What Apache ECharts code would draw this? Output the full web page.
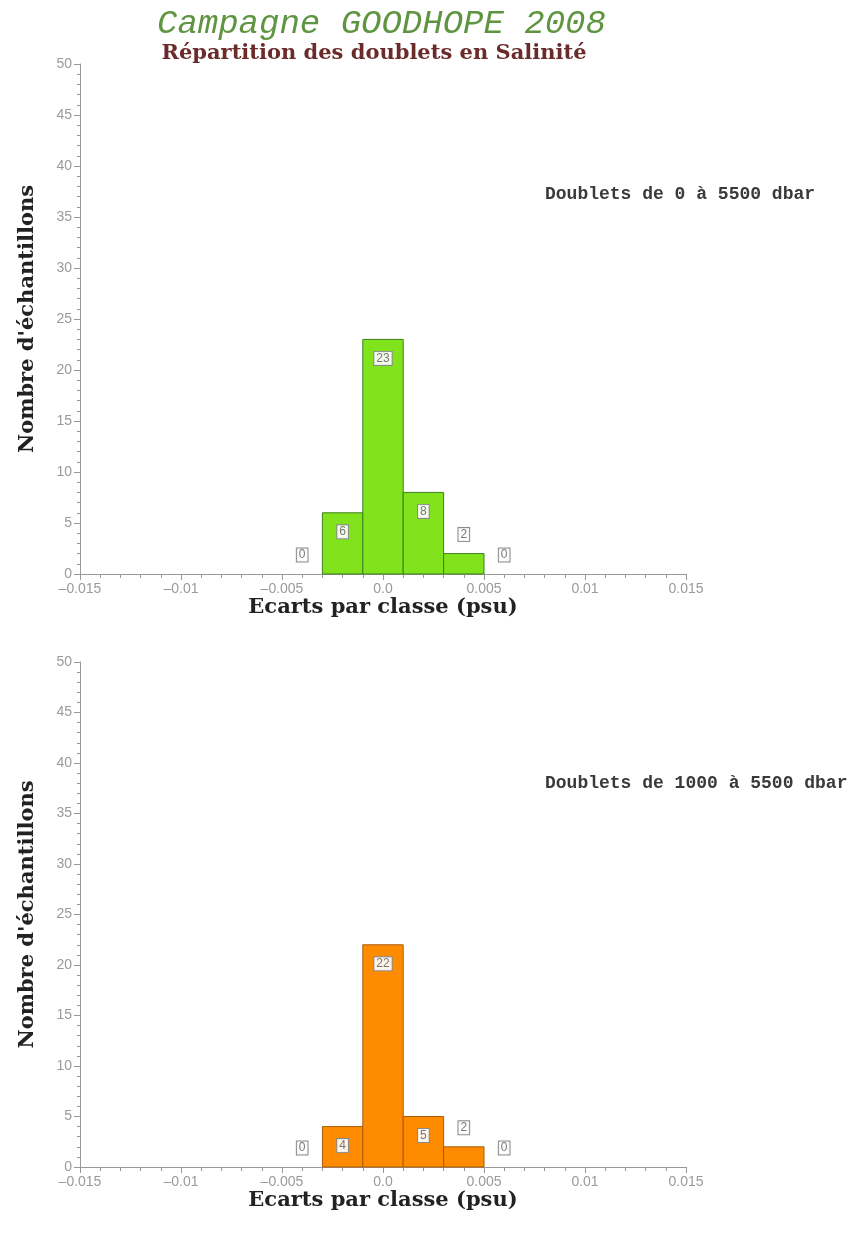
<!DOCTYPE html>
<html>
<head>
<meta charset="utf-8">
<script src="https://cdn.jsdelivr.net/npm/echarts@6/dist/echarts.min.js"></script>
<style>
html,body{margin:0;padding:0;background:#fff;}
#chart{width:854px;height:1243px;}
</style>
</head>
<body>
<div id="chart"></div>
<script>
// ---- data ----
const titleText = "Campagne GOODHOPE 2008";
const subtitleText = "Répartition des doublets en Salinité";
const binCenters = [-0.004, -0.002, 0.0, 0.002, 0.004, 0.006];
const binWidth = 0.002;
const countsTop = [0, 6, 23, 8, 2, 0];
const countsBottom = [0, 4, 22, 5, 2, 0];
const labelTop = "Doublets de 0 à 5500 dbar";
const labelBottom = "Doublets de 1000 à 5500 dbar";
const xTickLabels = {"-0.015": "–0.015", "-0.01": "–0.01", "-0.005": "–0.005", "0": "0.0", "0.005": "0.005", "0.01": "0.01", "0.015": "0.015"};
const xName = "Ecarts par classe (psu)";
const yName = "Nombre d'échantillons";

const chart = echarts.init(document.getElementById('chart'), null, {renderer: 'canvas'});

function makeRender(fill, stroke) {
  return function (params, api) {
    const c = api.value(0), v = api.value(1);
    const p0 = api.coord([c - binWidth / 2, 0]);
    const p1 = api.coord([c + binWidth / 2, v]);
    const children = [];
    if (v > 0) {
      children.push({
        type: 'rect',
        shape: {x: p0[0], y: p1[1], width: p1[0] - p0[0], height: p0[1] - p1[1]},
        style: {fill: fill, stroke: stroke, lineWidth: 1}
      });
    }
    const ly = v > 3 ? p1[1] + 19 : p1[1] - 19;
    children.push({
      type: 'text',
      x: (p0[0] + p1[0]) / 2,
      y: ly,
      style: {
        text: String(v), align: 'center', verticalAlign: 'middle',
        fontSize: 12, fontFamily: 'Liberation Sans', fill: '#777',
        backgroundColor: 'rgba(255,255,255,0.9)', borderColor: '#8a8a8a', borderWidth: 1,
        padding: [1, 2, 0, 2]
      },
      z2: 10
    });
    return {type: 'group', children: children};
  };
}

function xAxisCfg(idx) {
  return {
    type: 'value', gridIndex: idx, min: -0.015, max: 0.015, interval: 0.005,
    name: xName, nameLocation: 'middle', nameGap: 20,
    nameTextStyle: {fontFamily: 'DejaVu Serif', fontWeight: 'bold', fontSize: 21, color: '#222'},
    axisLine: {onZero: false, lineStyle: {color: '#999', width: 1}},
    axisTick: {show: true, length: 6, lineStyle: {color: '#999'}},
    minorTick: {show: true, splitNumber: 5, length: 4, lineStyle: {color: '#999'}},
    splitLine: {show: false},
    axisLabel: {
      margin: 8, color: '#9a9a9a', fontSize: 14, fontFamily: 'Liberation Sans',
      formatter: function (val) { const k = String(Math.round(val * 1000) / 1000); return xTickLabels[k] !== undefined ? xTickLabels[k] : k; }
    }
  };
}
function yAxisCfg(idx) {
  return {
    type: 'value', gridIndex: idx, min: 0, max: 50, interval: 5,
    name: yName, nameLocation: 'middle', nameGap: 42, nameRotate: 90,
    nameTextStyle: {fontFamily: 'DejaVu Serif', fontWeight: 'bold', fontSize: 21, color: '#222'},
    axisLine: {show: true, onZero: false, lineStyle: {color: '#999', width: 1}},
    axisTick: {show: true, length: 6, lineStyle: {color: '#999'}},
    minorTick: {show: true, splitNumber: 5, length: 3, lineStyle: {color: '#999'}},
    splitLine: {show: false},
    axisLabel: {margin: 8, color: '#9a9a9a', fontSize: 14, fontFamily: 'Liberation Sans'}
  };
}

const option = {
  backgroundColor: '#fff',
  animation: false,
  grid: [
    {left: 80, width: 606, top: 64, height: 510},
    {left: 80, width: 606, top: 662, height: 505}
  ],
  xAxis: [xAxisCfg(0), xAxisCfg(1)],
  yAxis: [yAxisCfg(0), yAxisCfg(1)],
  series: [
    {type: 'custom', xAxisIndex: 0, yAxisIndex: 0, renderItem: makeRender('#80e31c', '#3f7f1c'),
     data: binCenters.map((c, i) => [c, countsTop[i]])},
    {type: 'custom', xAxisIndex: 1, yAxisIndex: 1, renderItem: makeRender('#ff8c00', '#a85a08'),
     data: binCenters.map((c, i) => [c, countsBottom[i]])}
  ],
  graphic: [
    {type: 'text', left: 157, top: 7,
     style: {text: titleText, fontFamily: 'Liberation Mono', fontStyle: 'italic', fontSize: 34, fill: '#5f9441'}},
    {type: 'text', x: 374, y: 54,
     style: {text: subtitleText, align: 'center', verticalAlign: 'middle', fontFamily: 'DejaVu Serif', fontWeight: 'bold', fontSize: 21, fill: '#6b2b2b'}},
    {type: 'text', x: 545, y: 194,
     style: {text: labelTop, align: 'left', verticalAlign: 'middle', fontFamily: 'Liberation Mono', fontWeight: 'bold', fontSize: 18, fill: '#3a3a3a'}},
    {type: 'text', x: 545, y: 783,
     style: {text: labelBottom, align: 'left', verticalAlign: 'middle', fontFamily: 'Liberation Mono', fontWeight: 'bold', fontSize: 18, fill: '#3a3a3a'}}
  ]
};
chart.setOption(option);
</script>
</body>
</html>
